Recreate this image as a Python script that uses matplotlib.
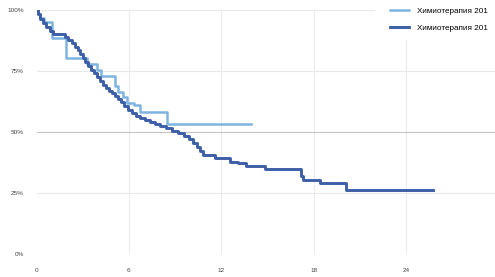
import matplotlib.pyplot as plt
from matplotlib.patches import Rectangle

plt.rcParams['font.family'] = ['Liberation Sans', 'DejaVu Sans']

# Kaplan-Meier style survival curves (months, % surviving)
light_t = [0, 0.1, 0.25, 0.5, 1.0, 1.9, 3.3, 3.9, 4.2, 5.1, 5.3, 5.6, 5.9, 6.3, 6.7, 8.5, 13.9]
light_s = [100, 98.5, 96.7, 95, 88.5, 80.5, 78, 75.5, 73, 69, 66.4, 64.5, 62, 61, 58, 53.3, 53.3]

dark_t = [0, 0.1, 0.23, 0.42, 0.62, 0.88, 1.07, 1.85, 2.05, 2.3, 2.5, 2.7, 2.83, 3.02,
          3.15, 3.34, 3.54, 3.73, 3.93, 4.12, 4.32, 4.51, 4.71, 4.9, 5.1, 5.29, 5.49,
          5.68, 5.94, 6.2, 6.46, 6.72, 7.05, 7.37, 7.7, 8.02, 8.41, 8.8, 9.19, 9.58,
          9.9, 10.16, 10.42, 10.62, 10.81, 11.59, 12.56, 13.08, 13.6, 14.84, 17.18,
          17.3, 18.4, 20.1, 25.75]
dark_s = [100, 98.4, 96.3, 94.7, 93, 91.4, 90.2, 88.9, 87.7, 86.5, 84.8, 83.6, 82, 80.3,
          78.7, 77, 75.4, 74.2, 72.5, 70.9, 69.3, 68, 66.8, 66, 64.8, 63.5, 62.3,
          60.7, 59, 57.8, 56.6, 55.7, 54.9, 54.1, 53.3, 52.5, 51.6, 50.4, 49.6, 48.4,
          47.1, 45.5, 43.9, 42.2, 40.6, 39.3, 37.7, 37.3, 36.1, 34.8, 32,
          30.3, 29.1, 26.2, 26.2]

labels = ['Химиотерапия 201', 'Химиотерапия 201']
x_ticks = [0, 6, 12, 18, 24, 30]
y_ticks = [0, 25, 50, 75, 100]

W, H = 495, 277
fig = plt.figure(figsize=(W / 100, H / 100), dpi=100)
ax = fig.add_axes([36.5 / W, (H - 254) / H, 462 / W, 244 / H])

ax.step(light_t, light_s, where='post', color='#7db4e0', lw=1.8, label=labels[0], zorder=3)
ax.step(dark_t, dark_s, where='post', color='#3c5fa7', lw=2.1, label=labels[1], zorder=4)

ax.set_xlim(0, 30)
ax.set_ylim(0, 100)
ax.set_xticks(x_ticks)
ax.set_yticks(y_ticks)
ax.set_yticklabels([f'{v}%' for v in y_ticks])
ax.tick_params(length=0, labelsize=4.6, colors='#444444')
ax.tick_params(axis='x', pad=10)
ax.tick_params(axis='y', pad=9)
for s in ax.spines.values():
    s.set_visible(False)

for v in x_ticks[1:]:
    ax.axvline(v, color='#ececec', lw=0.8, zorder=1)
for v in y_ticks:
    ax.axhline(v, color='#c4c4c4' if v == 50 else '#e8e8e8', lw=0.8, zorder=1)

# white area behind the legend
fig.patches.append(Rectangle((375 / W, 1 - 40 / H), 1, 40 / H, transform=fig.transFigure,
                             facecolor='white', edgecolor='none', zorder=2))

fig.legend(loc='upper left', bbox_to_anchor=(383 / W, 1.0), frameon=False,
           fontsize=5.9, handlelength=2.3, handletextpad=0.9, labelspacing=1.1,
           borderpad=0.4)

fig.savefig('out.png', dpi=100)
